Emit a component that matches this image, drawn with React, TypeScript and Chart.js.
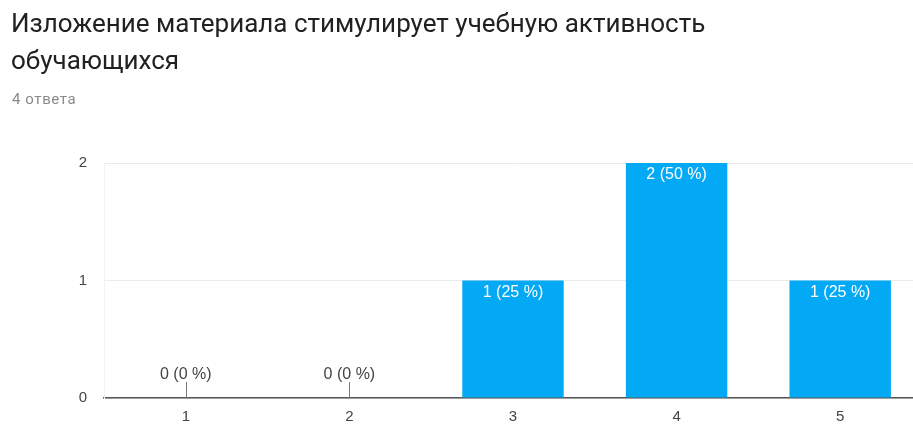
import React, { useEffect, useRef } from "react";
import { Chart, registerables } from "chart.js";

Chart.register(...registerables);

const titleLines = ["Изложение материала стимулирует учебную активность", "обучающихся"];
const subtitle = "4 ответа";
const categories = ["1", "2", "3", "4", "5"];
const counts = [0, 0, 1, 2, 1];
const percents = [0, 0, 25, 50, 25];
const yTicks = [0, 1, 2];

const BAR_COLOR = "#03a9f4";
const TEXT_GRAY = "#444444";

const barLabels = {
  id: "barLabels",
  afterDatasetsDraw(chart: any) {
    const ctx = chart.ctx;
    const meta = chart.getDatasetMeta(0);
    const yScale = chart.scales.y;
    const zeroY = yScale.getPixelForValue(0);
    ctx.save();
    ctx.font = "16px 'Liberation Sans', Arial, sans-serif";
    ctx.textAlign = "center";
    ctx.textBaseline = "middle";
    meta.data.forEach((bar: any, i: number) => {
      const label = `${counts[i]} (${percents[i]} %)`;
      if (counts[i] > 0) {
        ctx.fillStyle = "#ffffff";
        ctx.fillText(label, bar.x, bar.y + 12);
      } else {
        ctx.fillStyle = TEXT_GRAY;
        ctx.fillText(label, bar.x, zeroY - 23);
        ctx.strokeStyle = "#777777";
        ctx.lineWidth = 1;
        ctx.beginPath();
        ctx.moveTo(Math.round(bar.x) + 0.5, zeroY - 16);
        ctx.lineTo(Math.round(bar.x) + 0.5, zeroY);
        ctx.stroke();
      }
    });
    ctx.restore();
  },
};

export default function App() {
  const canvasRef = useRef<HTMLCanvasElement | null>(null);

  useEffect(() => {
    if (!canvasRef.current) return;
    const chart = new Chart(canvasRef.current, {
      type: "bar",
      data: {
        labels: categories,
        datasets: [
          {
            data: counts,
            backgroundColor: BAR_COLOR,
            borderWidth: 0,
            barPercentage: 0.62,
            categoryPercentage: 1,
          },
        ],
      },
      options: {
        animation: false,
        responsive: false,
        maintainAspectRatio: false,
        layout: { padding: { top: 163, left: 0, right: 18, bottom: 0 } },
        plugins: {
          legend: { display: false },
          tooltip: { enabled: false },
          title: { display: false },
        },
        scales: {
          x: {
            grid: { display: false, drawTicks: false },
            border: { display: true, color: "#555555", width: 1.5 },
            ticks: {
              color: TEXT_GRAY,
              padding: 10,
              font: { family: "'Liberation Sans', Arial, sans-serif", size: 15 },
            },
            afterFit(scale: any) {
              scale.height = 38;
            },
          },
          y: {
            min: 0,
            max: 2,
            afterBuildTicks(scale: any) {
              scale.ticks = yTicks.map((v) => ({ value: v }));
            },
            grid: { color: "#ebebeb", drawTicks: false },
            border: { display: true, color: "#f2f2f2" },
            ticks: {
              color: TEXT_GRAY,
              padding: 17,
              font: { family: "'Liberation Sans', Arial, sans-serif", size: 15 },
            },
            afterFit(scale: any) {
              scale.width = 104;
            },
          },
        },
      },
      plugins: [barLabels],
    });
    return () => chart.destroy();
  }, []);

  return (
    <div
      style={{
        position: "fixed",
        left: 0,
        top: 0,
        width: 913,
        height: 436,
        overflow: "hidden",
        background: "#ffffff",
      }}
    >
      <canvas
        ref={canvasRef}
        width={940}
        height={436}
        style={{ position: "absolute", left: 0, top: 0, width: 940, height: 436 }}
      />
      <div
        style={{
          position: "absolute",
          left: 11,
          top: 5,
          fontFamily: "Roboto, 'Noto Sans', sans-serif",
          fontSize: 26,
          lineHeight: "37px",
          color: "#212121",
          whiteSpace: "nowrap",
        }}
      >
        {titleLines.map((l, i) => (
          <div key={i}>{l}</div>
        ))}
      </div>
      <div
        style={{
          position: "absolute",
          left: 12,
          top: 90,
          fontFamily: "Roboto, 'Noto Sans', sans-serif",
          fontSize: 15,
          letterSpacing: "0.6px",
          color: "#8a8a8a",
          whiteSpace: "nowrap",
        }}
      >
        {subtitle}
      </div>
    </div>
  );
}
